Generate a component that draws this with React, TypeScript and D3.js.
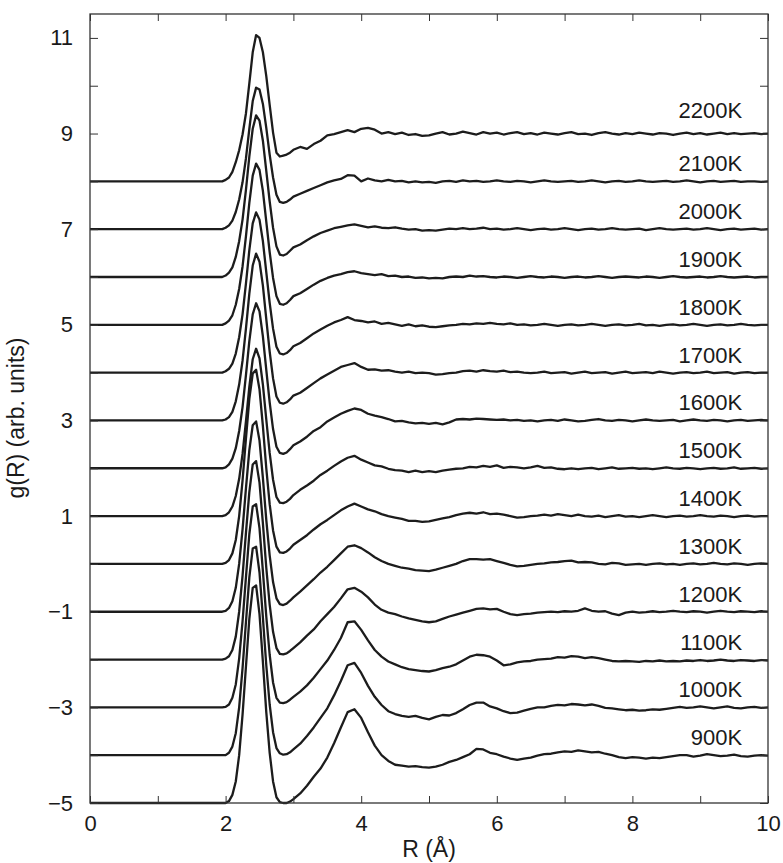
import { useEffect, useRef } from 'react';
import * as d3 from 'd3';

// R grid (Å): fine steps across the first peak, 0.1 Å afterwards
const rGrid = [
  0, 1.95, 2.0, 2.05, 2.1, 2.15, 2.2, 2.25, 2.3, 2.35, 2.4, 2.45, 2.5, 2.55, 2.6, 2.65, 2.7, 2.75, 2.8, 2.85, 2.9, 2.95,
  3.0, 3.1, 3.2, 3.3, 3.4, 3.5, 3.6, 3.7, 3.8, 3.9,
  4.0, 4.1, 4.2, 4.3, 4.4, 4.5, 4.6, 4.7, 4.8, 4.9,
  5.0, 5.1, 5.2, 5.3, 5.4, 5.5, 5.6, 5.7, 5.8, 5.9,
  6.0, 6.1, 6.2, 6.3, 6.4, 6.5, 6.6, 6.7, 6.8, 6.9,
  7.0, 7.1, 7.2, 7.3, 7.4, 7.5, 7.6, 7.7, 7.8, 7.9,
  8.0, 8.1, 8.2, 8.3, 8.4, 8.5, 8.6, 8.7, 8.8, 8.9,
  9.0, 9.1, 9.2, 9.3, 9.4, 9.5, 9.6, 9.7, 9.8, 9.9, 10.0,
];

const g900 = [
  0, 0, 0, 0.04, 0.17, 0.45, 1.0, 1.85, 2.85, 3.85, 4.5, 4.55, 3.95, 2.95, 1.9, 1.05, 0.45, 0.12, 0.02, 0, 0, 0.03,
  0.08, 0.2, 0.36, 0.55, 0.72, 0.95, 1.25, 1.58, 1.9, 1.96,
  1.78, 1.48, 1.2, 1.0, 0.88, 0.8, 0.78, 0.76, 0.77, 0.75,
  0.74, 0.76, 0.8, 0.86, 0.9, 0.96, 1.02, 1.13, 1.12, 1.05,
  1.02, 0.97, 0.93, 0.9, 0.93, 0.95, 0.99, 1.02, 1.03, 1.06,
  1.08, 1.07, 1.1, 1.08, 1.06, 1.07, 1.03, 1.0, 0.96, 0.94,
  0.96, 0.95, 0.93, 0.95, 0.94, 0.96, 0.98, 1.0, 1.0, 0.97,
  0.99, 1.02, 1.0, 0.98, 0.99, 1.01, 0.98, 0.97, 0.99, 1.0, 0.99,
];
const g1000 = [
  0, 0, 0, 0.05, 0.18, 0.46, 1.0, 1.82, 2.78, 3.72, 4.32, 4.36, 3.82, 2.88, 1.88, 1.06, 0.48, 0.15, 0.04, 0.01, 0.02, 0.06,
  0.12, 0.24, 0.4, 0.58, 0.78, 0.98, 1.25, 1.55, 1.88, 1.93,
  1.72, 1.45, 1.22, 1.05, 0.92, 0.86, 0.82, 0.8, 0.82, 0.78,
  0.75, 0.8, 0.84, 0.83, 0.88, 0.96, 1.05, 1.1, 1.1, 1.02,
  0.98, 0.92, 0.88, 0.89, 0.93, 0.97, 1.0, 1.0, 1.03, 1.05,
  1.04, 1.07, 1.06, 1.04, 1.06, 1.03, 0.99, 0.98, 0.96, 0.94,
  0.95, 0.93, 0.94, 0.96, 0.95, 0.97, 0.99, 1.01, 0.99, 1.0,
  1.02, 1.0, 0.98, 1.0, 1.02, 0.99, 0.98, 1.0, 1.01, 0.99, 1.0,
];
const g1100 = [
  0, 0, 0.01, 0.06, 0.2, 0.48, 1.02, 1.8, 2.72, 3.62, 4.2, 4.25, 3.75, 2.85, 1.9, 1.1, 0.52, 0.2, 0.1, 0.09, 0.11, 0.16,
  0.22, 0.33, 0.46, 0.62, 0.8, 0.98, 1.2, 1.45, 1.78, 1.8,
  1.62, 1.4, 1.2, 1.06, 0.96, 0.9, 0.84, 0.8, 0.78, 0.76,
  0.75, 0.78, 0.82, 0.85, 0.9, 0.98, 1.06, 1.1, 1.09, 1.06,
  0.98, 0.88, 0.9, 0.94, 0.96, 0.97, 1.0, 1.01, 1.02, 1.05,
  1.04, 1.07, 1.06, 1.03, 1.05, 1.03, 1.0, 0.97, 0.96, 0.97,
  0.96, 0.95, 0.97, 0.96, 0.98, 0.96, 0.97, 0.96, 0.98, 0.97,
  0.99, 0.97, 0.98, 1.0, 0.98, 0.97, 0.99, 0.98, 0.97, 0.99, 0.98,
];
const g1200 = [
  0, 0, 0.02, 0.07, 0.2, 0.48, 1.0, 1.75, 2.65, 3.5, 4.08, 4.15, 3.7, 2.85, 1.92, 1.15, 0.58, 0.24, 0.12, 0.11, 0.13, 0.18,
  0.24, 0.36, 0.5, 0.63, 0.8, 0.95, 1.1, 1.28, 1.47, 1.5,
  1.42, 1.3, 1.15, 1.04, 0.98, 0.95, 0.9, 0.86, 0.83, 0.8,
  0.78, 0.8, 0.85, 0.9, 0.94, 0.98, 1.02, 1.06, 1.07, 1.05,
  1.06, 1.0, 0.95, 0.93, 0.95, 0.96, 0.98, 0.99, 1.0, 0.99,
  1.01, 1.0, 1.02, 1.07, 1.02, 1.0, 1.01, 0.96, 0.93, 0.98,
  1.0, 0.98, 0.99, 1.01, 0.99, 1.0, 1.02, 1.0, 0.99, 1.01,
  1.0, 0.98, 1.0, 1.02, 1.0, 0.99, 1.01, 1.0, 0.99, 1.01, 1.0,
];
const g1300 = [
  0, 0, 0.02, 0.08, 0.22, 0.5, 1.0, 1.72, 2.58, 3.38, 3.9, 3.98, 3.58, 2.8, 1.92, 1.18, 0.62, 0.28, 0.16, 0.14, 0.17, 0.23,
  0.3, 0.42, 0.55, 0.68, 0.82, 0.94, 1.08, 1.22, 1.36, 1.39,
  1.33, 1.24, 1.14, 1.06, 1.0, 0.96, 0.92, 0.9, 0.87, 0.86,
  0.85, 0.88, 0.92, 0.96, 1.0, 1.06, 1.1, 1.1, 1.09, 1.1,
  1.06, 1.02, 0.98, 0.95, 0.96, 0.98, 1.0, 1.01, 1.03, 1.04,
  1.06, 1.07, 1.03, 1.04, 1.03, 1.0, 0.99, 1.02, 1.01, 0.98,
  0.99, 1.0, 0.98, 1.0, 1.01, 0.99, 1.0, 0.98, 1.0, 1.01,
  0.99, 1.0, 1.02, 1.0, 0.99, 1.01, 1.0, 0.98, 1.0, 1.01, 1.0,
];
const g1400 = [
  0, 0, 0.02, 0.08, 0.22, 0.5, 1.0, 1.74, 2.62, 3.45, 3.98, 4.06, 3.65, 2.88, 2.0, 1.25, 0.7, 0.36, 0.24, 0.23, 0.26, 0.32,
  0.4, 0.5, 0.6, 0.72, 0.83, 0.92, 1.02, 1.12, 1.2, 1.26,
  1.2, 1.14, 1.1, 1.04, 1.0, 0.97, 0.94, 0.9, 0.9, 0.88,
  0.89, 0.92, 0.95, 0.98, 1.02, 1.05, 1.07, 1.05, 1.08, 1.04,
  1.05, 1.03, 1.0, 0.97, 0.98, 1.0, 1.01, 1.03, 1.01, 1.04,
  1.02, 1.0, 1.03, 1.0, 0.99, 1.01, 0.98, 1.0, 1.02, 0.99,
  1.0, 0.98, 1.0, 1.02, 1.0, 0.98, 1.0, 1.01, 0.99, 1.0,
  1.02, 1.0, 0.99, 1.01, 1.0, 0.98, 1.0, 1.01, 0.99, 1.0, 1.0,
];
const g1500 = [
  0, 0, 0.02, 0.08, 0.2, 0.42, 0.78, 1.3, 1.98, 2.7, 3.28, 3.5, 3.3, 2.75, 2.02, 1.32, 0.76, 0.4, 0.28, 0.27, 0.3, 0.36,
  0.44, 0.55, 0.64, 0.74, 0.86, 0.95, 1.05, 1.14, 1.22, 1.26,
  1.18, 1.12, 1.06, 1.04, 0.99, 0.96, 0.95, 0.92, 0.95, 0.92,
  0.94, 0.92, 0.95, 0.97, 0.99, 1.0, 1.03, 1.02, 1.05, 1.03,
  1.06, 1.01, 1.03, 1.02, 1.0, 1.02, 1.05, 1.01, 1.02, 0.99,
  0.98, 1.0, 0.98, 1.0, 1.01, 0.98, 1.0, 1.02, 0.99, 1.0,
  1.01, 0.99, 1.0, 0.98, 1.0, 1.02, 1.0, 0.99, 1.01, 1.0,
  0.98, 1.0, 1.01, 0.99, 1.0, 1.02, 0.99, 1.0, 1.01, 0.99, 1.0,
];
const g1600 = [
  0, 0, 0.02, 0.08, 0.2, 0.42, 0.78, 1.28, 1.95, 2.66, 3.22, 3.45, 3.28, 2.76, 2.06, 1.38, 0.82, 0.45, 0.32, 0.3, 0.33, 0.4,
  0.48, 0.56, 0.66, 0.78, 0.86, 0.98, 1.06, 1.14, 1.2, 1.25,
  1.22, 1.14, 1.1, 1.07, 1.03, 0.98, 0.99, 0.96, 0.94, 0.95,
  0.93, 0.95, 0.92, 0.96, 1.02, 1.03, 1.02, 1.04, 1.03, 1.02,
  1.01, 1.02, 1.0, 1.01, 0.99, 1.0, 0.98, 1.0, 1.01, 0.99,
  1.02, 1.0, 0.98, 0.99, 1.01, 1.03, 1.0, 0.99, 1.01, 1.0,
  0.98, 1.0, 1.02, 1.0, 0.99, 1.0, 1.01, 0.98, 1.0, 1.02,
  1.0, 0.99, 1.01, 1.0, 0.98, 1.0, 1.01, 0.99, 1.0, 1.01, 1.0,
];
const g1700 = [
  0, 0, 0.02, 0.07, 0.18, 0.4, 0.75, 1.25, 1.92, 2.65, 3.24, 3.49, 3.32, 2.82, 2.12, 1.44, 0.88, 0.5, 0.37, 0.35, 0.38, 0.44,
  0.52, 0.58, 0.68, 0.78, 0.88, 0.96, 1.04, 1.12, 1.16, 1.2,
  1.12, 1.06, 1.07, 1.04, 1.05, 1.02, 1.0, 1.02, 0.99, 1.0,
  0.99, 0.96, 0.97, 0.99, 1.0, 1.03, 1.04, 1.02, 1.05, 1.03,
  1.02, 1.04, 1.01, 1.02, 1.0, 0.99, 1.0, 1.02, 0.99, 1.0,
  1.01, 0.98, 1.0, 1.02, 0.99, 1.0, 1.01, 0.98, 1.0, 1.02,
  0.99, 1.0, 1.01, 0.99, 1.02, 1.0, 0.98, 1.0, 1.01, 0.99,
  1.0, 1.02, 0.99, 1.0, 1.01, 0.98, 1.0, 1.01, 0.99, 1.0, 1.0,
];
const g1800 = [
  0, 0, 0.03, 0.08, 0.19, 0.4, 0.74, 1.22, 1.86, 2.56, 3.12, 3.35, 3.2, 2.75, 2.1, 1.46, 0.92, 0.54, 0.4, 0.38, 0.41, 0.47,
  0.55, 0.62, 0.72, 0.82, 0.9, 0.98, 1.05, 1.1, 1.16, 1.1,
  1.08, 1.05, 1.07, 1.02, 1.04, 1.01, 0.98, 1.01, 0.97, 0.99,
  0.96, 0.95, 0.97, 0.99, 1.0, 1.02, 1.01, 1.03, 1.02, 1.04,
  1.02, 1.01, 1.03, 1.0, 1.01, 0.99, 1.0, 1.02, 1.0, 0.98,
  1.0, 1.01, 0.99, 1.0, 1.02, 1.0, 0.98, 1.0, 1.01, 0.99,
  1.0, 1.02, 0.99, 1.0, 0.98, 1.0, 1.01, 0.99, 1.0, 1.02,
  1.0, 0.98, 1.0, 1.01, 0.99, 1.0, 1.02, 1.0, 0.99, 1.0, 1.0,
];
const g1900 = [
  0, 0, 0.03, 0.09, 0.2, 0.42, 0.75, 1.22, 1.85, 2.55, 3.12, 3.37, 3.24, 2.8, 2.16, 1.52, 0.98, 0.6, 0.44, 0.42, 0.45, 0.52,
  0.6, 0.66, 0.75, 0.84, 0.92, 0.98, 1.03, 1.06, 1.1, 1.12,
  1.08, 1.06, 1.04, 1.06, 1.02, 1.03, 1.0, 1.01, 0.98, 0.99,
  0.97, 0.98, 0.97, 1.0, 1.01, 1.0, 1.03, 1.01, 1.02, 1.0,
  0.99, 1.01, 1.0, 0.98, 1.0, 1.02, 1.0, 0.99, 1.01, 1.0,
  0.98, 1.0, 1.01, 0.99, 1.0, 1.02, 1.0, 0.98, 1.0, 1.01,
  1.0, 0.99, 1.01, 1.0, 0.98, 1.0, 1.02, 1.0, 0.99, 1.0,
  1.01, 0.99, 1.0, 1.02, 1.0, 0.99, 1.0, 1.01, 0.99, 1.0, 1.0,
];
const g2000 = [
  0, 0, 0.03, 0.09, 0.2, 0.42, 0.75, 1.2, 1.82, 2.52, 3.1, 3.38, 3.27, 2.85, 2.22, 1.58, 1.03, 0.64, 0.47, 0.45, 0.48, 0.55,
  0.62, 0.68, 0.77, 0.85, 0.92, 0.97, 1.02, 1.05, 1.08, 1.1,
  1.07, 1.04, 1.06, 1.03, 1.02, 1.04, 1.01, 0.99, 1.0, 0.97,
  0.98, 0.97, 0.99, 1.01, 1.0, 1.02, 1.0, 1.01, 1.03, 1.0,
  1.01, 0.99, 1.0, 1.02, 1.0, 0.98, 1.0, 1.01, 0.99, 1.0,
  1.02, 1.0, 0.98, 1.0, 1.01, 0.99, 1.0, 1.02, 1.0, 0.99,
  1.0, 1.01, 0.98, 1.0, 1.02, 1.0, 0.99, 1.0, 1.01, 0.99,
  1.0, 1.02, 1.0, 0.98, 1.0, 1.01, 0.99, 1.0, 1.01, 0.99, 1.0,
];
const g2100 = [
  0, 0, 0.03, 0.08, 0.18, 0.36, 0.62, 0.98, 1.48, 2.1, 2.68, 2.96, 2.92, 2.62, 2.12, 1.56, 1.08, 0.72, 0.57, 0.55, 0.57, 0.62,
  0.68, 0.74, 0.8, 0.86, 0.92, 0.98, 1.02, 1.05, 1.13, 1.12,
  1.0, 1.06, 1.02, 1.0, 1.03, 1.0, 1.01, 0.98, 1.0, 0.98,
  0.99, 0.97, 1.0, 1.01, 0.99, 1.02, 1.0, 1.01, 0.99, 1.0,
  1.02, 1.0, 0.99, 1.01, 1.0, 0.98, 1.0, 1.02, 1.0, 0.99,
  1.0, 1.01, 0.99, 1.0, 1.02, 1.0, 0.98, 1.0, 1.01, 0.99,
  1.0, 1.02, 1.0, 0.99, 1.0, 1.01, 0.99, 1.0, 1.02, 1.0,
  0.98, 1.0, 1.01, 0.99, 1.0, 1.01, 0.99, 1.0, 1.0, 0.99, 1.0,
];
const g2200 = [
  0, 0, 0.03, 0.08, 0.2, 0.4, 0.65, 0.98, 1.42, 2.05, 2.7, 3.06, 3.0, 2.7, 2.2, 1.6, 1.02, 0.6, 0.52, 0.54, 0.56, 0.6,
  0.66, 0.72, 0.68, 0.78, 0.85, 0.96, 0.99, 1.03, 1.07, 1.03,
  1.1, 1.12, 1.08, 1.0, 1.03, 0.99, 1.02, 0.97, 0.99, 0.95,
  0.96, 1.0, 1.03, 0.98, 1.0, 1.04, 1.01, 0.98, 1.03, 1.0,
  1.02, 0.98, 1.01, 1.03, 0.99, 1.01, 0.98, 1.02, 1.0, 0.98,
  1.01, 1.03, 0.99, 1.0, 0.97, 1.01, 1.03, 1.0, 0.98, 1.01,
  0.99, 1.02, 1.0, 0.98, 1.01, 1.0, 0.97, 1.0, 1.02, 0.99,
  1.01, 0.98, 1.0, 1.02, 0.99, 1.01, 0.99, 1.0, 1.01, 0.99, 1.0,
];

// each curve is shifted by one unit per temperature step
const temperatures = ['900K', '1000K', '1100K', '1200K', '1300K', '1400K', '1500K', '1600K', '1700K', '1800K', '1900K', '2000K', '2100K', '2200K'];
const offsets = [-5, -4, -3, -2, -1, 0, 1, 2, 3, 4, 5, 6, 7, 8];
const gSeries = [g900, g1000, g1100, g1200, g1300, g1400, g1500, g1600, g1700, g1800, g1900, g2000, g2100, g2200];

const xTicks = [0, 1, 2, 3, 4, 5, 6, 7, 8, 9, 10];
const yTicks = [-5, -4, -3, -2, -1, 0, 1, 2, 3, 4, 5, 6, 7, 8, 9, 10, 11];

const W = 783;
const H = 863;
const FONT = '"Liberation Sans", Arial, Helvetica, sans-serif';

export default function App() {
  const svgRef = useRef(null);

  useEffect(() => {
    const svg = d3.select(svgRef.current);
    svg.selectAll('*').remove();

    const x = d3.scaleLinear().domain([0, 10]).range([90, 768]);
    const y = d3.scaleLinear().domain([-5, 11.5]).range([803, 14]);

    svg.append('rect').attr('width', W).attr('height', H).attr('fill', '#fff');

    const line = d3.line<number>()
      .x((_, i) => x(rGrid[i]))
      .y((d) => d);

    const curves = svg.append('g');
    gSeries.forEach((g, k) => {
      const off = offsets[k];
      curves.append('path')
        .attr('d', line(g.map((v) => y(v + off))))
        .attr('fill', 'none')
        .attr('stroke', '#1c1c1c')
        .attr('stroke-width', 2.3)
        .attr('stroke-linejoin', 'round');
    });

    // temperature labels above each tail
    svg.append('g')
      .selectAll('text')
      .data(temperatures)
      .join('text')
      .attr('x', x(9.62))
      .attr('y', (_, k) => y(offsets[k] + 1) - (k === temperatures.length - 1 ? 16 : 10))
      .attr('text-anchor', 'end')
      .attr('font-family', FONT)
      .attr('font-size', 22)
      .attr('fill', '#1a1a1a')
      .text((d) => d);

    const axisColor = '#333';
    const bottom = svg.append('g').attr('transform', 'translate(0,803)')
      .call(d3.axisBottom(x).tickValues(xTicks).tickSize(-7).tickPadding(12)
        .tickFormat((d) => (+d % 2 === 0 ? String(d) : '')));
    const top = svg.append('g').attr('transform', 'translate(0,14)')
      .call(d3.axisTop(x).tickValues(xTicks).tickSize(-7).tickFormat(() => ''));
    const left = svg.append('g').attr('transform', 'translate(90,0)')
      .call(d3.axisLeft(y).tickValues(yTicks).tickSize(-8).tickPadding(17)
        .tickFormat((d) => (+d % 2 !== 0 ? d3.format('d')(+d) : '')));
    const right = svg.append('g').attr('transform', 'translate(768,0)')
      .call(d3.axisRight(y).tickValues(yTicks).tickSize(-8).tickFormat(() => ''));

    [bottom, top, left, right].forEach((ax) => {
      ax.select('.domain').remove();
      ax.selectAll('line').attr('stroke', axisColor).attr('stroke-width', 1);
      ax.selectAll('text')
        .attr('font-family', FONT)
        .attr('font-size', 22)
        .attr('fill', '#1a1a1a');
    });

    svg.append('rect')
      .attr('x', 90).attr('y', 14)
      .attr('width', 678).attr('height', 789)
      .attr('fill', 'none')
      .attr('stroke', axisColor)
      .attr('stroke-width', 1.3);

    svg.append('text')
      .attr('x', 429).attr('y', 857)
      .attr('text-anchor', 'middle')
      .attr('font-family', FONT)
      .attr('font-size', 23)
      .attr('fill', '#1a1a1a')
      .text('R (Å)');

    svg.append('text')
      .attr('transform', 'translate(24,418) rotate(-90)')
      .attr('text-anchor', 'middle')
      .attr('font-family', FONT)
      .attr('font-size', 23)
      .attr('fill', '#1a1a1a')
      .text('g(R) (arb. units)');
  }, []);

  return (
    <svg
      ref={svgRef}
      width={W}
      height={H}
      style={{ position: 'absolute', left: 0, top: 0, display: 'block' }}
    />
  );
}
